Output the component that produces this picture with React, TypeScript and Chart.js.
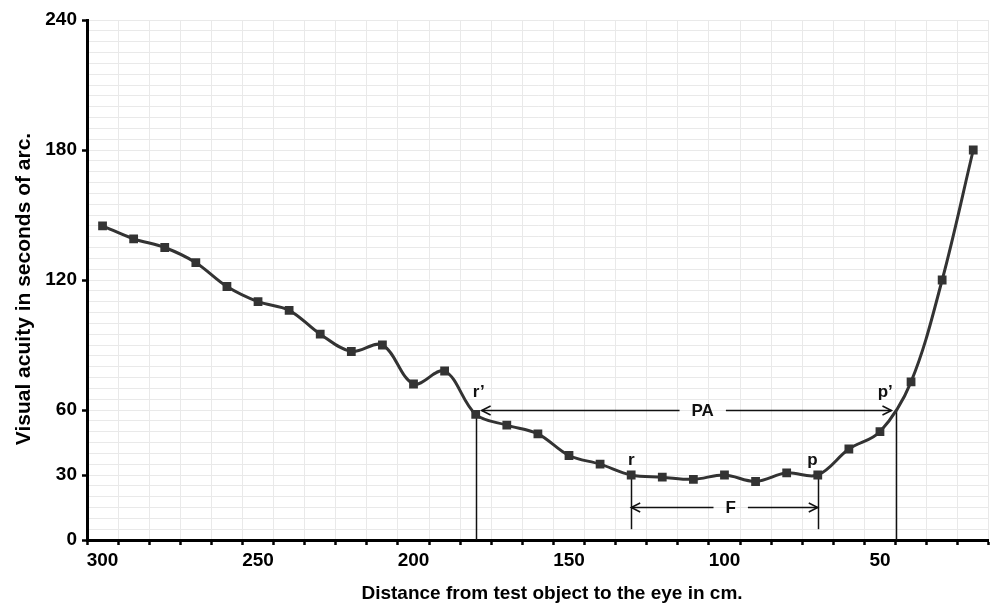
import React, { useEffect, useRef } from "react";
import { Chart, registerables } from "chart.js";

Chart.register(...registerables);

// ---- data ----
const distances = [300, 290, 280, 270, 260, 250, 240, 230, 220, 210, 200, 190, 180, 170, 160, 150, 140, 130, 120, 110, 100, 90, 80, 70, 60, 50, 40, 30, 20];
const acuity = [145, 139, 135, 128, 117, 110, 106, 95, 87, 90, 72, 78, 58, 53, 49, 39, 35, 30, 29, 28, 30, 27, 31, 30, 42, 50, 73, 120, 180];

const xLabelValues = [300, 250, 200, 150, 100, 50];
const yLabelValues = [0, 30, 60, 120, 180, 240];
const xMin = 15;
const xMax = 305;
const yMin = 0;
const yMax = 240;
const minorStep = 5;

// annotation values (data coordinates)
const guideX = [180, 45, 130, 70];
const guideTop = [58, 60, 30, 30];
const guideBottom = [0, 0, 5, 5];

const spanLabels = ["PA", "F"];
const spanFrom = [178.1, 130];
const spanTo = [46.3, 70];
const spanY = [60, 15.2];
const spanMid = [107, 98];

const pointLabels = ["r\u2019", "p\u2019", "r", "p"];
const pointLabelX = [179, 48.3, 130, 71.7];
const pointLabelY = [68, 68, 37, 37];

const xTitle = "Distance from test object to the eye in cm.";
const yTitle = "Visual acuity in seconds of arc.";

const FONT = "'Liberation Sans', Arial, Helvetica, sans-serif";
const GRID = "#e9e9e9";
const INK = "#111";

function arrowHead(ctx: CanvasRenderingContext2D, x: number, y: number, dir: number) {
  ctx.beginPath();
  ctx.moveTo(x - dir * 9, y - 4.5);
  ctx.lineTo(x, y);
  ctx.lineTo(x - dir * 9, y + 4.5);
  ctx.stroke();
}

const annotations = {
  id: "annotations",
  beforeDatasetsDraw(chart: any) {
    const { ctx, scales } = chart;
    const x = scales.x;
    const y = scales.y;
    ctx.save();
    ctx.strokeStyle = INK;
    ctx.lineWidth = 1.5;
    guideX.forEach((gx, i) => {
      const px = Math.round(x.getPixelForValue(gx)) + 0.5;
      ctx.beginPath();
      ctx.moveTo(px, y.getPixelForValue(guideTop[i]));
      ctx.lineTo(px, y.getPixelForValue(guideBottom[i]));
      ctx.stroke();
    });
    ctx.restore();
  },
  afterDatasetsDraw(chart: any) {
    const { ctx, scales } = chart;
    const x = scales.x;
    const y = scales.y;
    ctx.save();
    ctx.strokeStyle = INK;
    ctx.fillStyle = INK;
    ctx.lineWidth = 1.5;
    ctx.font = `bold 17px ${FONT}`;
    ctx.textAlign = "center";
    ctx.textBaseline = "middle";
    spanLabels.forEach((label, i) => {
      const x0 = x.getPixelForValue(spanFrom[i]);
      const x1 = x.getPixelForValue(spanTo[i]);
      const py = Math.round(y.getPixelForValue(spanY[i])) + 0.5;
      const mid = x.getPixelForValue(spanMid[i]);
      const half = ctx.measureText(label).width / 2 + 12;
      ctx.beginPath();
      ctx.moveTo(x0, py);
      ctx.lineTo(mid - half, py);
      ctx.moveTo(mid + half, py);
      ctx.lineTo(x1, py);
      ctx.stroke();
      arrowHead(ctx, x0, py, -1);
      arrowHead(ctx, x1, py, 1);
      ctx.fillText(label, mid, py + 1);
    });
    pointLabels.forEach((label, i) => {
      ctx.fillText(label, x.getPixelForValue(pointLabelX[i]), y.getPixelForValue(pointLabelY[i]));
    });
    ctx.restore();
  },
  afterDraw(chart: any) {
    const { ctx } = chart;
    ctx.save();
    ctx.fillStyle = "#000";
    ctx.textAlign = "center";
    ctx.textBaseline = "middle";
    ctx.font = `bold 19px ${FONT}`;
    ctx.fillText(xTitle, 552, 594);
    ctx.translate(24, 289);
    ctx.rotate(-Math.PI / 2);
    ctx.font = `bold 21px ${FONT}`;
    ctx.fillText(yTitle, 0, 0);
    ctx.restore();
  },
};

function minorTicks(min: number, max: number) {
  const out: { value: number }[] = [];
  for (let v = min; v <= max + 1e-9; v += minorStep) out.push({ value: v });
  return out;
}

export default function App() {
  const ref = useRef<HTMLCanvasElement | null>(null);

  useEffect(() => {
    document.body.style.margin = "0";
    const canvas = ref.current;
    if (!canvas) return;
    const chart = new Chart(canvas, {
      type: "line",
      data: {
        datasets: [
          {
            data: distances.map((d, i) => ({ x: d, y: acuity[i] })),
            borderColor: "#333",
            backgroundColor: "#333",
            borderWidth: 3,
            pointStyle: "rect",
            pointRadius: 6.2,
            pointBorderWidth: 0,
            pointBackgroundColor: "#333",
            tension: 0.35,
            fill: false,
          },
        ],
      },
      options: {
        responsive: false,
        animation: false,
        devicePixelRatio: 1,
        layout: { padding: { top: 20, right: 3, left: 0, bottom: 0 } },
        plugins: { legend: { display: false }, tooltip: { enabled: false }, title: { display: false } },
        scales: {
          x: {
            type: "linear",
            reverse: true,
            min: xMin,
            max: xMax,
            afterBuildTicks: (scale: any) => {
              scale.ticks = minorTicks(xMin, xMax);
            },
            afterFit: (scale: any) => {
              scale.height = 67;
            },
            border: { display: true, color: "#000", width: 3 },
            grid: {
              color: (c: any) => (c.tick && Math.round(c.tick.value) % 10 === 5 ? GRID : "rgba(0,0,0,0)"),
              tickColor: (c: any) => (c.tick && Math.round(c.tick.value) % 10 === 5 ? "#000" : "rgba(0,0,0,0)"),
              lineWidth: 1,
              tickWidth: 2.5,
              tickLength: 5,
              drawTicks: true,
            },
            ticks: {
              autoSkip: false,
              maxRotation: 0,
              padding: 4,
              color: "#000",
              font: { family: FONT, size: 19, weight: "bold" },
              callback: (v: any) => (xLabelValues.includes(Math.round(Number(v))) ? String(Math.round(Number(v))) : ""),
            },
          },
          y: {
            type: "linear",
            min: yMin,
            max: yMax,
            afterBuildTicks: (scale: any) => {
              scale.ticks = minorTicks(yMin, yMax);
            },
            afterFit: (scale: any) => {
              scale.width = 87;
            },
            border: { display: true, color: "#000", width: 3 },
            grid: {
              color: (c: any) => (c.tick && c.tick.value > 0 ? GRID : "rgba(0,0,0,0)"),
              tickColor: (c: any) => (c.tick && yLabelValues.includes(Math.round(c.tick.value)) ? "#000" : "rgba(0,0,0,0)"),
              lineWidth: 1,
              tickWidth: 2.5,
              tickLength: 5,
              drawTicks: true,
            },
            ticks: {
              autoSkip: false,
              padding: 5,
              color: "#000",
              font: { family: FONT, size: 19, weight: "bold" },
              callback: (v: any) => (yLabelValues.includes(Math.round(Number(v))) ? String(Math.round(Number(v))) : ""),
            },
          },
        },
      },
      plugins: [annotations],
    } as any);
    return () => chart.destroy();
  }, []);

  return (
    <div style={{ width: 995, height: 607, background: "#fff" }}>
      <canvas ref={ref} width={995} height={607} style={{ display: "block" }} />
    </div>
  );
}
